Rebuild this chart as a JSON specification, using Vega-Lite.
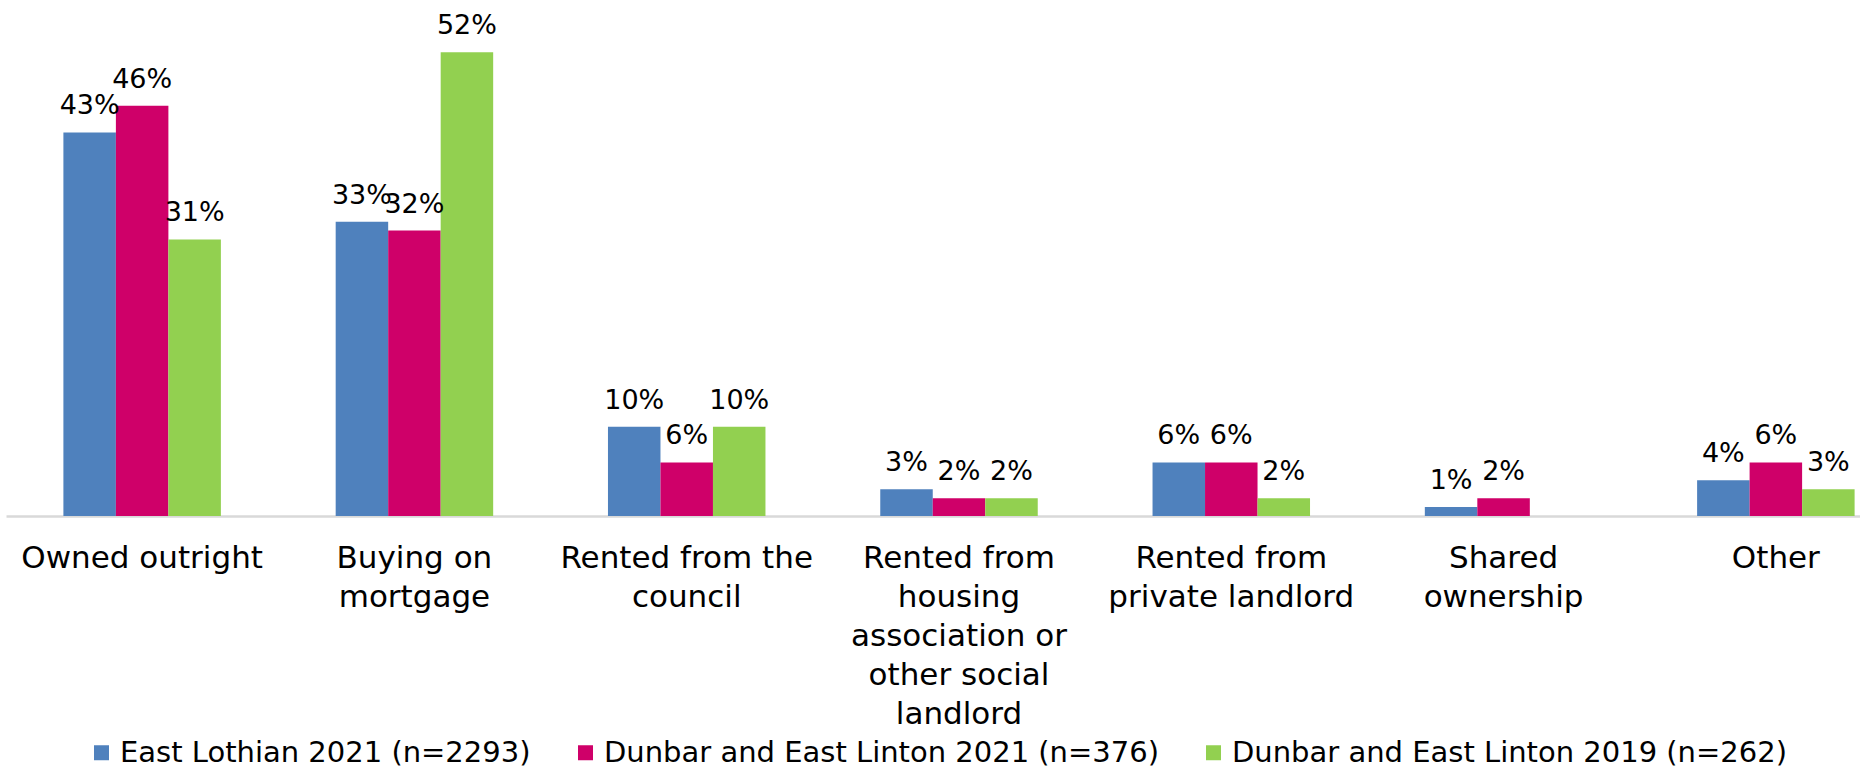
{
  "$schema": "https://vega.github.io/schema/vega-lite/v6.json",
  "autosize": {"type": "none"},
  "width": 1854,
  "height": 516,
  "padding": {"left": 6, "top": 0, "right": 0, "bottom": 256},
  "background": "white",
  "config": {
    "view": {"stroke": null},
    "font": "DejaVu Sans"
  },
  "data": {
    "values": [
      {"tenure": "Owned outright", "series": "East Lothian 2021 (n=2293)", "pct": 0.43},
      {"tenure": "Owned outright", "series": "Dunbar and East Linton 2021 (n=376)", "pct": 0.46},
      {"tenure": "Owned outright", "series": "Dunbar and East Linton 2019 (n=262)", "pct": 0.31},
      {"tenure": "Buying on mortgage", "series": "East Lothian 2021 (n=2293)", "pct": 0.33},
      {"tenure": "Buying on mortgage", "series": "Dunbar and East Linton 2021 (n=376)", "pct": 0.32},
      {"tenure": "Buying on mortgage", "series": "Dunbar and East Linton 2019 (n=262)", "pct": 0.52},
      {"tenure": "Rented from the council", "series": "East Lothian 2021 (n=2293)", "pct": 0.10},
      {"tenure": "Rented from the council", "series": "Dunbar and East Linton 2021 (n=376)", "pct": 0.06},
      {"tenure": "Rented from the council", "series": "Dunbar and East Linton 2019 (n=262)", "pct": 0.10},
      {"tenure": "Rented from housing association or other social landlord", "series": "East Lothian 2021 (n=2293)", "pct": 0.03},
      {"tenure": "Rented from housing association or other social landlord", "series": "Dunbar and East Linton 2021 (n=376)", "pct": 0.02},
      {"tenure": "Rented from housing association or other social landlord", "series": "Dunbar and East Linton 2019 (n=262)", "pct": 0.02},
      {"tenure": "Rented from private landlord", "series": "East Lothian 2021 (n=2293)", "pct": 0.06},
      {"tenure": "Rented from private landlord", "series": "Dunbar and East Linton 2021 (n=376)", "pct": 0.06},
      {"tenure": "Rented from private landlord", "series": "Dunbar and East Linton 2019 (n=262)", "pct": 0.02},
      {"tenure": "Shared ownership", "series": "East Lothian 2021 (n=2293)", "pct": 0.01},
      {"tenure": "Shared ownership", "series": "Dunbar and East Linton 2021 (n=376)", "pct": 0.02},
      {"tenure": "Other", "series": "East Lothian 2021 (n=2293)", "pct": 0.04},
      {"tenure": "Other", "series": "Dunbar and East Linton 2021 (n=376)", "pct": 0.06},
      {"tenure": "Other", "series": "Dunbar and East Linton 2019 (n=262)", "pct": 0.03}
    ]
  },
  "encoding": {
    "x": {
      "field": "tenure",
      "type": "nominal",
      "sort": null,
      "scale": {"range": [0, 1906], "paddingInner": 0.4216, "paddingOuter": 0.2108},
      "axis": {
        "title": null,
        "ticks": false,
        "domainColor": "#D9D9D9",
        "domainWidth": 2.5,
        "labelAngle": 0,
        "labelFont": "DejaVu Sans",
        "labelFontSize": 31,
        "labelColor": "#000000",
        "labelBaseline": "top",
        "labelPadding": 27,
        "labelLineHeight": 39,
        "labelLimit": 0,
        "labelExpr": "datum.value == 'Buying on mortgage' ? ['Buying on', 'mortgage'] : datum.value == 'Rented from the council' ? ['Rented from the', 'council'] : datum.value == 'Rented from housing association or other social landlord' ? ['Rented from', 'housing', 'association or', 'other social', 'landlord'] : datum.value == 'Rented from private landlord' ? ['Rented from', 'private landlord'] : datum.value == 'Shared ownership' ? ['Shared', 'ownership'] : datum.value"
      }
    },
    "xOffset": {
      "field": "series",
      "type": "nominal",
      "sort": ["East Lothian 2021 (n=2293)", "Dunbar and East Linton 2021 (n=376)", "Dunbar and East Linton 2019 (n=262)"]
    },
    "y": {
      "field": "pct",
      "type": "quantitative",
      "scale": {"domain": [0, 0.5785], "nice": false, "zero": true},
      "axis": null
    }
  },
  "layer": [
    {
      "mark": {"type": "bar"},
      "encoding": {
        "color": {
          "field": "series",
          "type": "nominal",
          "sort": ["East Lothian 2021 (n=2293)", "Dunbar and East Linton 2021 (n=376)", "Dunbar and East Linton 2019 (n=262)"],
          "scale": {
            "domain": ["East Lothian 2021 (n=2293)", "Dunbar and East Linton 2021 (n=376)", "Dunbar and East Linton 2019 (n=262)"],
            "range": ["#4F81BD", "#CF0069", "#92D050"]
          },
          "legend": {
            "title": null,
            "orient": "none",
            "direction": "horizontal",
            "legendX": 81,
            "legendY": 738,
            "symbolType": "square",
            "symbolSize": 225,
            "symbolStrokeWidth": 0,
            "labelFont": "DejaVu Sans",
            "labelFontSize": 29,
            "labelColor": "#000000",
            "labelOffset": 4,
            "labelLimit": 0,
            "columnPadding": 40
          }
        }
      }
    },
    {
      "mark": {"type": "text", "baseline": "alphabetic", "dy": -18, "font": "DejaVu Sans", "fontSize": 27, "color": "#000000"},
      "encoding": {
        "text": {"field": "pct", "type": "quantitative", "format": ".0%"}
      }
    }
  ]
}
